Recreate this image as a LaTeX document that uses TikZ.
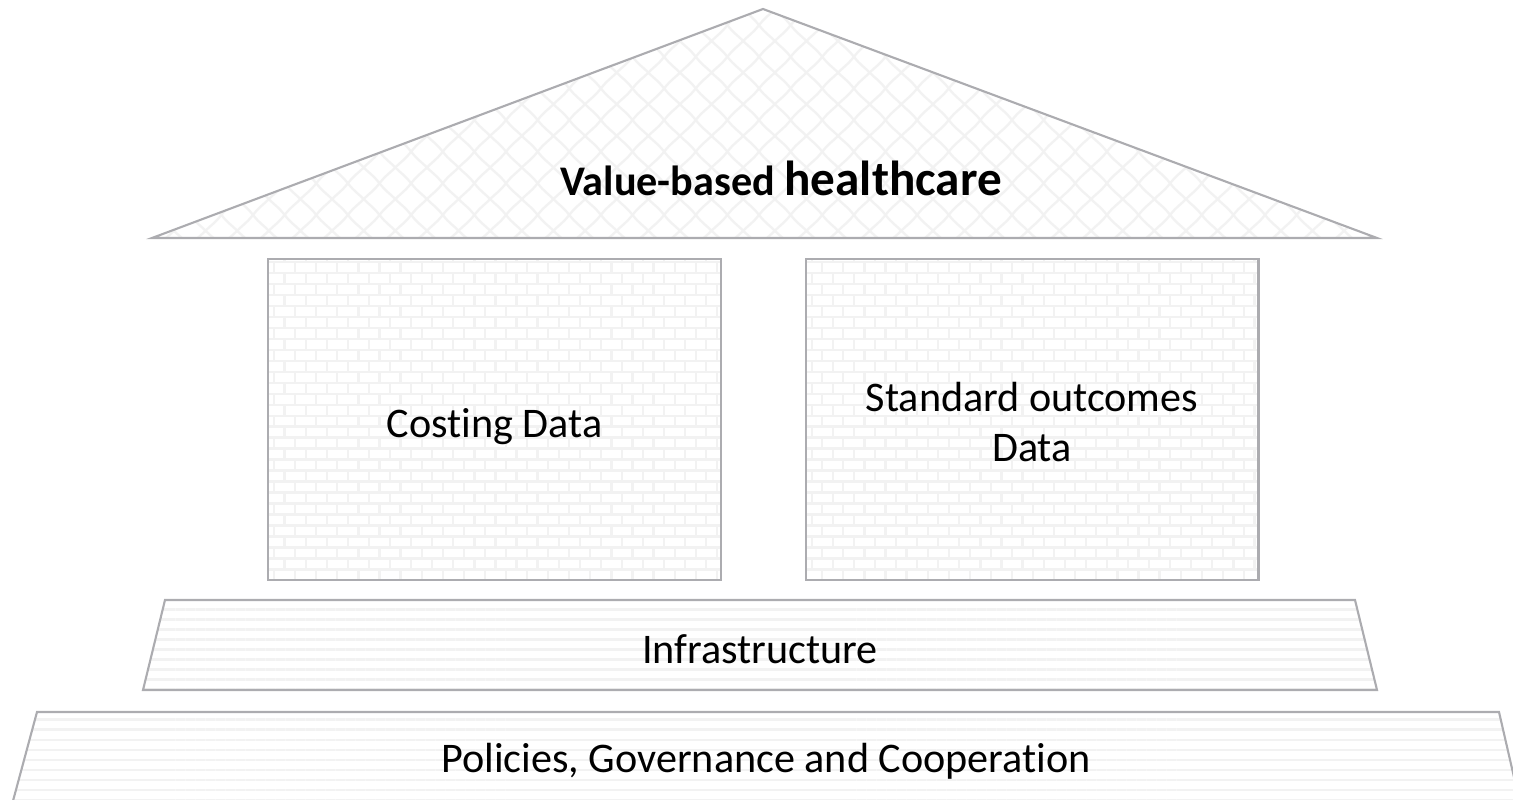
\documentclass[tikz,border=0pt]{standalone}
\usepackage{fontspec}
\setmainfont[Ligatures=NoCommon]{Carlito}
\usetikzlibrary{patterns,patterns.meta,positioning}

\definecolor{edgegray}{RGB}{172,172,176}
\definecolor{texgray}{RGB}{242,242,242}

% brick wall for the pillars
\pgfdeclarepatternformonly{brickwall}{\pgfpoint{-1pt}{-1pt}}{\pgfpoint{13pt}{13.5pt}}{\pgfpoint{12pt}{12.5pt}}{
  \pgfsetlinewidth{1.3pt}
  \pgfpathmoveto{\pgfpoint{0pt}{0pt}}\pgfpathlineto{\pgfpoint{12pt}{0pt}}
  \pgfpathmoveto{\pgfpoint{0pt}{6.25pt}}\pgfpathlineto{\pgfpoint{12pt}{6.25pt}}
  \pgfpathmoveto{\pgfpoint{0pt}{0pt}}\pgfpathlineto{\pgfpoint{0pt}{6.25pt}}
  \pgfpathmoveto{\pgfpoint{6pt}{6.25pt}}\pgfpathlineto{\pgfpoint{6pt}{12.5pt}}
  \pgfusepath{stroke}}

% scales for the roof
\pgfdeclarepatternformonly{roofscales}{\pgfpoint{-1pt}{-1pt}}{\pgfpoint{19pt}{19pt}}{\pgfpoint{18pt}{18pt}}{
  \pgfsetlinewidth{1.3pt}
  \pgfpathmoveto{\pgfpoint{0pt}{9pt}}
  \pgfpathcurveto{\pgfpoint{4pt}{4pt}}{\pgfpoint{5pt}{4pt}}{\pgfpoint{9pt}{0pt}}
  \pgfpathcurveto{\pgfpoint{13pt}{4pt}}{\pgfpoint{14pt}{4pt}}{\pgfpoint{18pt}{9pt}}
  \pgfpathmoveto{\pgfpoint{0pt}{9pt}}
  \pgfpathcurveto{\pgfpoint{4pt}{14pt}}{\pgfpoint{5pt}{14pt}}{\pgfpoint{9pt}{18pt}}
  \pgfpathmoveto{\pgfpoint{18pt}{9pt}}
  \pgfpathcurveto{\pgfpoint{14pt}{14pt}}{\pgfpoint{13pt}{14pt}}{\pgfpoint{9pt}{18pt}}
  \pgfusepath{stroke}}

\tikzset{
  outline/.style={draw=edgegray, line width=1.2pt, line join=miter},
  wall/.style={outline, fill=white, pattern=brickwall, pattern color=texgray,
               minimum width=9.06cm, minimum height=6.42cm, inner sep=0pt},
  base/.style={outline, fill=white,
               pattern={Lines[angle=0, distance=5.7pt, line width=1.6pt]}, pattern color=texgray},
  roof/.style={outline, fill=white, pattern=roofscales, pattern color=texgray},
  label/.style={font=\fontsize{24}{28.5}\selectfont, inner sep=0pt, align=center}
}

\begin{document}
\begin{tikzpicture}[x=0.02cm, y=-0.02cm]
  \useasboundingbox (0,0) rectangle (1513,800);

  % roof
  \coordinate (apex) at (763,9);
  \coordinate (eaveL) at (152,238);
  \coordinate (eaveR) at (1377,238);
  \fill[white] (apex) -- (eaveR) -- (eaveL) -- cycle;
  \draw[roof] (apex) -- (eaveR) -- (eaveL) -- cycle;
  \node (vbhc) [inner sep=0pt] at (781,178)
    {\bfseries\fontsize{24}{28}\selectfont Value-based \fontsize{28}{32}\selectfont healthcare};

  % pillars
  \node (costing) [wall] at (494.5,419.5) {};
  \node (outcomes) [wall] at (1032,419.5) {};
  \node (costingtxt) [label, yshift=-0.14cm] at (costing.center) {Costing Data};
  \node (outcomestxt) [label, yshift=-0.05cm] at (outcomes.center) {Standard outcomes\\Data};

  % foundations
  \coordinate (infTL) at (165,600);
  \coordinate (infTR) at (1355,600);
  \coordinate (infBR) at (1377,690);
  \coordinate (infBL) at (143,690);
  \fill[white] (infTL) -- (infTR) -- (infBR) -- (infBL) -- cycle;
  \draw[base] (infTL) -- (infTR) -- (infBR) -- (infBL) -- cycle;
  \node (infra) [label] at (760,649) {Infrastructure};

  \coordinate (polTL) at (37,712);
  \coordinate (polTR) at (1499,712);
  \coordinate (polBR) at (1522,812);
  \coordinate (polBL) at (10,812);
  \fill[white] (polTL) -- (polTR) -- (polBR) -- (polBL) -- cycle;
  \draw[base] (polTL) -- (polTR) -- (polBR) -- (polBL) -- cycle;
  \node (policies) [label] at (766,761) {Policies, Governance and Cooperation};
\end{tikzpicture}
\end{document}
